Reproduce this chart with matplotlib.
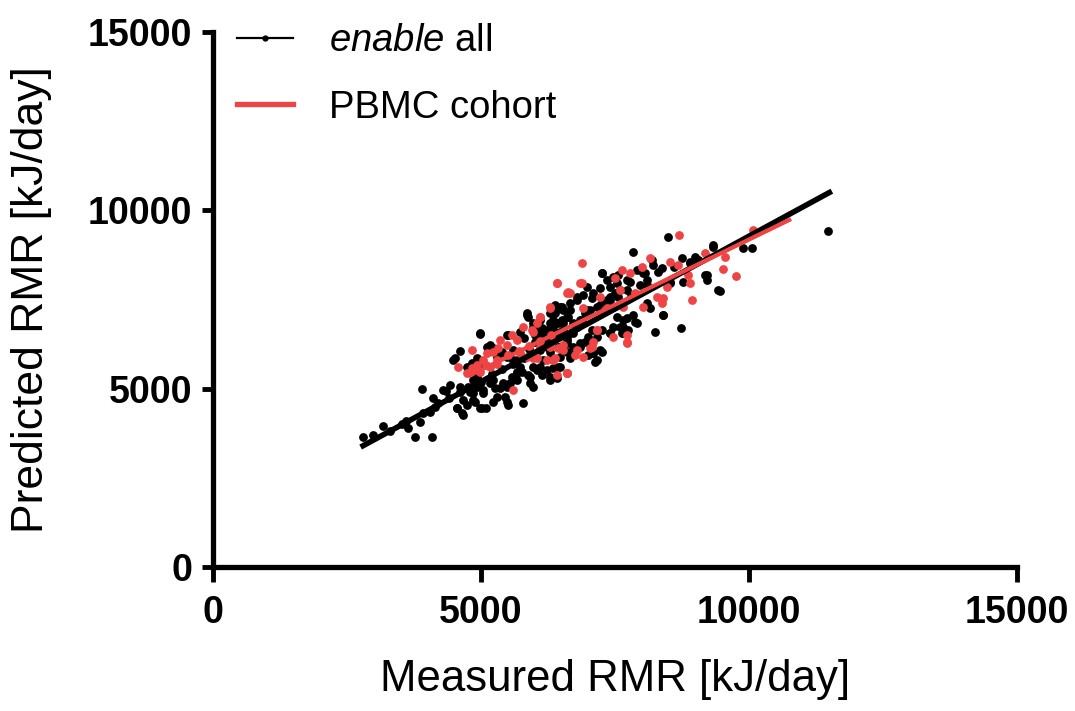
import numpy as np
import matplotlib
matplotlib.use("Agg")
from matplotlib import pyplot as plt
from matplotlib.lines import Line2D

plt.rcParams['font.family'] = ['Liberation Sans', 'DejaVu Sans']
plt.rcParams['mathtext.fontset'] = 'custom'
plt.rcParams['mathtext.it'] = 'Liberation Sans:italic'
plt.rcParams['mathtext.rm'] = 'Liberation Sans'

# measured vs predicted RMR, enable cohort (black)
enable_pts = [
    (2793, 3654), (2992, 3701), (3179, 3954), (3521, 4010), (3645, 3888), (3770, 3654),
    (3863, 4075), (3925, 4309), (4050, 4356), (4143, 4496), (4081, 3654), (3894, 4991),
    (4112, 4729), (4348, 4944), (4423, 5103), (4547, 4449), (4641, 4309), (4672, 4683),
    (4734, 4542), (4858, 4870), (4889, 4636), (4983, 5150), (5045, 4870), (5014, 4449),
    (5095, 4449), (5231, 4636), (5263, 5010), (5231, 5243), (5356, 5010), (5449, 4776),
    (5480, 4636), (5511, 4543), (5542, 5150), (5574, 5337), (5667, 5243), (5791, 4608),
    (5760, 5477), (5885, 5384), (5916, 5150), (5978, 5617), (6102, 5617), (6133, 5384),
    (6227, 5524), (6289, 5337), (6351, 5571), (6444, 5617), (4516, 5851), (4609, 6066),
    (4983, 6533), (5107, 6178), (5169, 6197), (5231, 6131), (5387, 6038), (5480, 5898),
    (5511, 6505), (5605, 6085), (5667, 5804), (5729, 6599), (5804, 6412), (5853, 7113),
    (5885, 7019), (5978, 6739), (6009, 6505), (6071, 6832), (6102, 6599), (6164, 6458),
    (6227, 6645), (6289, 6832), (6351, 6926), (6382, 7113), (6475, 7253), (6538, 6832),
    (6569, 6552), (6600, 6365), (6631, 7019), (6382, 6552), (6444, 6178), (6475, 5898),
    (5729, 5617), (5667, 5477), (5605, 5804), (4920, 5337), (4827, 5711), (4796, 5524),
    (4734, 5617), (4858, 5243), (4920, 5057),
    (11470, 9422), (10052, 8936), (9896, 8936), (9324, 8982), (9056, 8609), (8901, 8562),
    (8745, 8655), (8497, 9244), (7831, 8842), (7253, 8253), (7470, 8141), (7906, 8328),
    (8030, 8235), (8186, 8609), (8217, 8468), (8310, 8281), (8372, 8375), (8528, 8001),
    (8776, 8001), (9181, 8188), (9212, 8048), (9461, 7749), (8403, 7066), (8727, 6692),
    (8248, 6599), (8154, 7253), (7906, 6832), (7843, 7066), (7719, 6973), (7657, 6739),
    (7626, 6552), (7470, 6739), (7408, 6552), (7253, 6038), (7128, 5758), (7097, 5991),
    (7004, 5945), (6848, 6272), (6724, 6552), (6599, 6272), (6537, 6646), (6475, 7300),
    (6662, 7207), (6786, 7487), (6973, 7861), (7097, 7674), (7221, 7814), (7346, 8048),
    (7408, 7487), (7564, 7580), (7719, 7767), (7781, 8001), (7968, 7907), (8092, 8048),
    (7564, 8188), (7221, 7347), (6973, 7207), (6848, 6926), (7066, 6646), (6475, 6552),
    (6537, 6085), (6724, 6178),
    (5977, 6833), (6102, 6926), (6133, 6692), (6195, 6599), (6039, 6459), (6008, 6318),
    (6164, 6365), (6257, 6552), (6350, 6739), (6444, 6833), (6506, 6926), (6599, 7019),
    (6475, 6599), (6413, 6459), (6288, 6318), (6226, 6178), (6102, 6085), (6288, 6038),
    (6319, 5851), (6164, 5804), (6475, 6178), (6599, 6459), (6693, 6599), (6724, 6833),
    (6786, 6739), (6879, 6926), (6941, 7113), (7035, 7206), (7159, 7300), (7252, 7393),
    (7346, 7487), (7408, 7580), (7501, 7674), (7594, 7767), (7470, 7300), (7532, 7019),
    (7657, 6926), (7408, 6552), (7252, 6646), (7159, 6459), (7066, 6272), (7004, 6459),
    (6941, 6318), (6848, 6178), (6724, 5991), (6661, 5851), (6599, 6038), (7097, 5991),
    (7159, 5804), (7221, 6085), (7657, 6552), (7594, 6739), (7408, 7861), (7532, 7954),
    (7719, 8048), (7252, 8235), (6661, 7393), (6786, 7580), (6910, 7627), (7066, 7534),
    (6537, 7206), (6506, 7300), (6382, 7347), (6288, 7113), (6039, 5524), (6475, 5617),
    (6413, 5290), (6288, 5243),
    (4400, 4750), (4600, 4900), (4750, 5050), (5000, 5200), (5200, 5400), (5400, 5550),
    (5600, 5700), (5800, 5850), (3300, 3800), (3600, 4100), (4200, 4600), (8600, 8400),
    (8100, 7900), (7800, 7600), (9000, 8700), (5300, 5900), (5900, 6100), (6000, 6700),
    (5853, 7066), (4982, 6552), (4485, 5804), (4920, 5851), (5014, 5664), (5169, 6225),
    (5480, 6506), (4298, 4963), (4609, 5057), (4796, 4917), (4858, 4683), (5045, 4963),
    (5169, 5150), (5293, 4776), (5480, 5057), (5667, 5431), (5915, 5337), (5978, 5057),
    (4547, 4449), (4671, 4262), (4982, 4449), (5418, 5150),
    (8062, 8234), (8093, 7393), (7875, 6879), (7751, 6645), (8404, 7066), (8528, 7953),
    (8901, 8514), (9057, 8608), (9212, 8187), (9337, 9028), (9430, 7767),
]

# PBMC cohort (red)
pbmc_pts = [
    (6413, 7954), (6600, 7674), (6289, 7253), (6102, 7019), (6040, 6832), (5947, 6645),
    (5791, 6739), (5667, 6365), (5574, 6505), (5480, 6225), (5356, 6365), (5325, 6131),
    (5231, 6038), (5107, 5991), (5045, 5804), (4920, 5664), (4827, 5571), (4734, 5430),
    (4578, 5617), (4827, 6085), (4983, 5477), (5169, 5617), (5294, 5804), (5729, 5991),
    (5853, 5898), (5978, 5851), (5605, 4963), (6351, 5804), (6413, 5384), (6600, 5430),
    (6289, 6178), (6538, 6085), (6102, 6178),
    (8696, 9310), (6879, 8534), (8154, 8655), (7999, 8422), (7781, 8235), (7626, 8328),
    (7501, 8094), (7595, 7767), (7221, 7580), (6848, 7954), (6631, 7721), (8528, 8562),
    (8683, 8468), (8870, 8188), (8901, 7954), (8932, 7487), (9181, 8796), (9554, 8702),
    (9523, 8356), (9753, 8160), (10083, 9450), (8279, 7580), (8403, 7534), (8372, 7393),
    (7719, 6272), (7719, 6506), (7159, 6646), (7066, 6178), (6910, 5898), (6755, 5945),
    (6599, 5431), (7346, 7253), (8030, 7300), (8465, 7861), (7874, 7674),
    (6413, 7954), (6879, 7954), (6661, 7674), (6910, 7253), (6288, 7300), (6102, 7019),
    (7159, 6646), (7097, 6318), (7470, 6459), (7035, 6131), (6537, 6225), (6444, 6131),
    (6039, 5851), (6226, 5804), (6382, 5851), (6599, 5430), (6786, 6085), (7657, 7300),
    (5977, 6599), (7315, 7206), (7719, 6318),
    (5100, 5650), (5300, 5700), (5500, 5950), (5700, 6050), (5900, 6200), (6100, 6350),
    (6300, 6500),
]

# regression lines
enable_fit_x = [2800, 11500]
enable_fit_y = [3400, 10500]
pbmc_fit_x = [4800, 10750]
pbmc_fit_y = [5380, 9730]

red = '#EE4444'

enable_x, enable_y = zip(*enable_pts)
pbmc_x, pbmc_y = zip(*pbmc_pts)

fig = plt.figure(figsize=(10.75, 7.11), dpi=100)
ax = fig.add_axes([213/1075, 1-567/711, (1017-213)/1075, (567-32)/711])

ax.scatter(enable_x, enable_y, s=40, color='black', linewidths=0, zorder=3, clip_on=False)
ax.scatter(pbmc_x, pbmc_y, s=40, color=red, linewidths=0, zorder=3.5, clip_on=False)
ax.plot(enable_fit_x, enable_fit_y, color='black', lw=4, zorder=4)
ax.plot(pbmc_fit_x, pbmc_fit_y, color=red, lw=3, zorder=5)

ax.set_xlim(0, 15000)
ax.set_ylim(0, 15000)
ax.set_xticks([0, 5000, 10000, 15000])
ax.set_yticks([0, 5000, 10000, 15000])
for s in ['top', 'right']:
    ax.spines[s].set_visible(False)
for s in ['left', 'bottom']:
    ax.spines[s].set_linewidth(3.8)
    ax.spines[s].set_capstyle('projecting')
ax.tick_params(width=3.5, length=8, labelsize=27, pad=7)
ax.tick_params(axis='x', length=11, pad=9)
for lab in ax.get_xticklabels() + ax.get_yticklabels():
    lab.set_fontweight('bold')

ax.set_xlabel('Measured RMR [kJ/day]', fontsize=31.5, labelpad=20)
ax.set_ylabel('Predicted RMR [kJ/day]', fontsize=32, labelpad=26)

handles = [
    Line2D([], [], color='black', lw=1.6, marker='o', markersize=3.5),
    Line2D([], [], color=red, lw=3.8),
]
fig.legend(handles, [r'$\mathit{enable}$ all', 'PBMC cohort'], loc='upper left',
           bbox_to_anchor=(237/1075, 1-23/711), frameon=False, fontsize=27.5,
           numpoints=1, handlelength=1.47, handletextpad=0.95, labelspacing=0.8,
           borderpad=0, borderaxespad=0)

fig.savefig('out.png', dpi=100)
